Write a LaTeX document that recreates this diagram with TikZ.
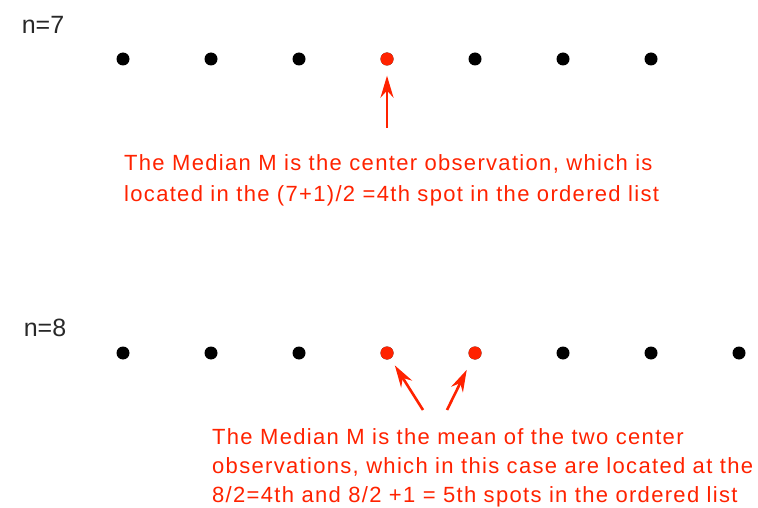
\documentclass[tikz,border=0pt]{standalone}
\usepackage{fontspec}
\setmainfont{Liberation Sans}
\newfontfamily\widesans[LetterSpace=6]{Liberation Sans}
\usetikzlibrary{arrows.meta}
\definecolor{medred}{RGB}{255,34,0}
\definecolor{labelgray}{RGB}{40,40,40}
\begin{document}
\begin{tikzpicture}[x=1pt,y=-1pt]
      \tikzset{obs node/.style={circle, fill=black, minimum size=13pt, inner sep=0pt},
        median node/.style={obs node, fill=medred},
        size label/.style={text=labelgray, font=\fontsize{25}{28}\selectfont, inner sep=0pt},
        note/.style={text=medred, align=left, inner sep=0pt, anchor=north west,
          font=\widesans\fontsize{22}{31}\selectfont},
        pointer/.style={draw=medred, line width=2.6pt, -{Stealth[length=22pt, width=13pt]}}}
      \useasboundingbox (0,0) rectangle (758,508);
      % n = 7
      \node[size label] (n7) at (43,25) {n=7};
      \foreach \i in {1,...,7}
        \node[obs node] (a\i) at ({123+88*(\i-1)},59) {};
      \node[median node] at (a4) {};
      \coordinate (tail7) at (387,128);
      \draw[pointer, shorten >=10pt] (tail7) -- (a4);
      \node[note] (note7) at (124,154) {The Median M is the center observation, which is\\located in the (7+1)/2 =4th spot in the ordered list};
      % n = 8
      \node[size label] (n8) at (45,328) {n=8};
      \foreach \i in {1,...,8}
        \node[obs node] (b\i) at ({123+88*(\i-1)},353) {};
      \node[median node] at (b4) {};
      \node[median node] at (b5) {};
      \coordinate (tail8a) at (423,410);
      \coordinate (tail8b) at (447,410);
      \draw[pointer, shorten >=8pt] (tail8a) -- (b4);
      \draw[pointer, shorten >=12pt] (tail8b) -- (b5);
      \node[note, font=\widesans\fontsize{22}{29}\selectfont] (note8) at (212,428) {The Median M is the mean of the two center\\observations, which in this case are located at the\\8/2=4th and 8/2 +1 = 5th spots in the ordered list};
    \end{tikzpicture}
\end{document}
